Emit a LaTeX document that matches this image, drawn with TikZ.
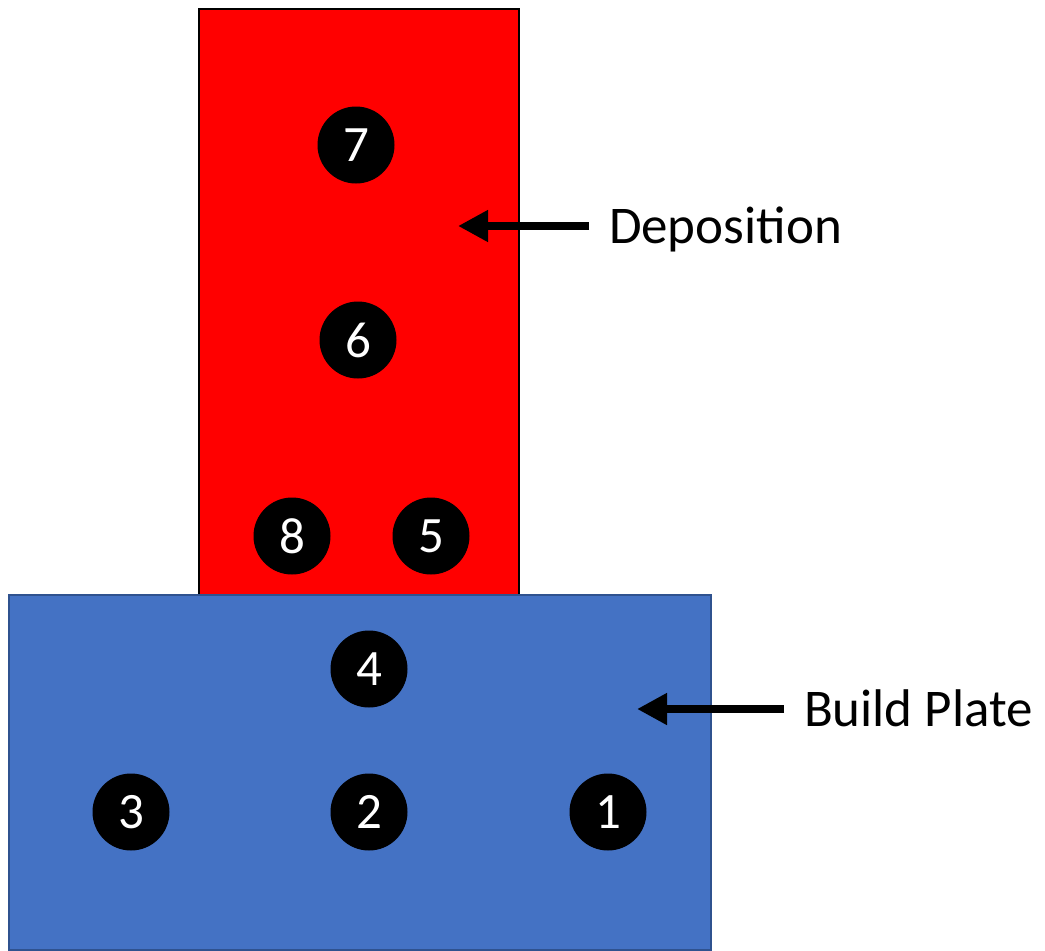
\documentclass[tikz,border=0pt]{standalone}
\usepackage{fontspec}
\setmainfont{Carlito}
\usetikzlibrary{arrows.meta}
\definecolor{plateblue}{HTML}{4472C4}
\definecolor{plateedge}{HTML}{2F528F}
\tikzset{
	spot/.style={circle, fill=black, text=white, inner sep=0pt, minimum size=77pt, font=\fontsize{51}{60}\selectfont},
	callout/.style={inner sep=0pt, outer xsep=20pt, anchor=west, text height=34pt, text depth=0pt, font=\fontsize{53}{64}\selectfont},
	pointer/.style={line width=8pt, -{Triangle[length=30pt, width=30pt]}}
}

\begin{document}
\begin{tikzpicture}[x=1pt, y=-1pt]
			%%%%% START %%%%%
			\useasboundingbox (0, 0) rectangle (1045, 951);
			
			% deposited wall and the plate under it
			\draw[line width=2.5pt, fill=red] (199, 9) rectangle (519, 595);
			\draw[line width=2pt, draw=plateedge, fill=plateblue] (9, 595) rectangle (711, 950);
			
			% numbered points
			\node[spot] (n7) at (356, 145) {7};
			\node[spot] (n6) at (358, 340) {6};
			\node[spot] (n8) at (292, 536) {8};
			\node[spot] (n5) at (431, 536) {5};
			\node[spot] (n4) at (369, 669) {4};
			\node[spot] (n3) at (131, 812) {3};
			\node[spot] (n2) at (369, 812) {2};
			\node[spot] (n1) at (608, 812) {1};
			
			% labels
			\node[callout] (dep) at (589, 226) {Deposition};
			\coordinate (deptip) at (458, 226);
			\draw[pointer] (dep.west) -- (deptip);
			
			\node[callout] (plate) at (784, 709) {Build Plate};
			\coordinate (platetip) at (637, 709);
			\draw[pointer] (plate.west) -- (platetip);
			%%%%% END %%%%%
\end{tikzpicture}
\end{document}
